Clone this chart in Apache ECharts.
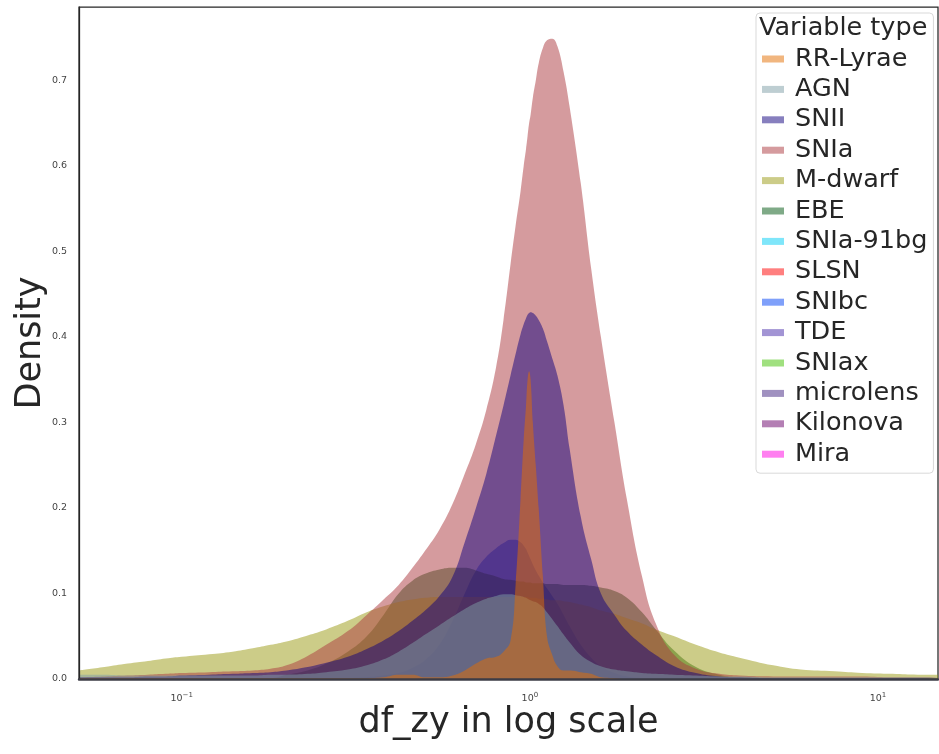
<!DOCTYPE html>
<html><head><meta charset="utf-8">
<script src="https://cdn.jsdelivr.net/npm/echarts@6/dist/echarts.min.js"></script>
<style>html,body{margin:0;padding:0;background:#fff}#c{width:939px;height:754px}</style>
</head><body><div id="c"></div>
<script>
// Legend order (first = drawn on top)
const categories = ['RR-Lyrae','AGN','SNII','SNIa','M-dwarf','EBE','SNIa-91bg','SLSN','SNIbc','TDE','SNIax','microlens','Kilonova','Mira'];

// x sample positions (df_zy values)
const xGrid = [0.0507,0.06,0.07,0.08,0.09,0.1,0.12,0.14,0.16,0.18,0.2,0.23,0.26,0.3,0.34,0.38,0.42,0.46,0.5,0.55,0.6,0.65,0.7,0.75,0.8,0.84,0.88,0.91,0.94,0.96,0.975,0.985,0.995,1.005,1.02,1.04,1.06,1.09,1.12,1.16,1.2,1.25,1.3,1.4,1.5,1.6,1.75,1.9,2.1,2.3,2.6,3.0,3.5,4.0,5.0,6.0,7.5,9.0,11.0,13.0,14.87];

const rrLyrae = [0.001,0.001,0.001,0.001,0.001,0.001,0.001,0.001,0.001,0.001,0.001,0.001,0.001,0.001,0.001,0.002,0.005,0.005,0.002,0.002,0.004,0.01,0.018,0.024,0.026,0.032,0.045,0.11,0.21,0.28,0.32,0.35,0.36,0.35,0.30,0.25,0.2,0.12,0.05,0.028,0.015,0.01,0.01,0.008,0.006,0.002,0.001,0,0,0,0,0,0,0,0,0,0,0,0,0,0];
const agn = [0.005,0.005,0.004,0.004,0.004,0.004,0.004,0.004,0.004,0.005,0.005,0.006,0.008,0.011,0.016,0.023,0.032,0.042,0.052,0.063,0.073,0.082,0.089,0.094,0.097,0.099,0.099,0.098,0.097,0.096,0.095,0.094,0.093,0.092,0.091,0.09,0.088,0.084,0.078,0.07,0.062,0.052,0.043,0.028,0.02,0.015,0.011,0.009,0.007,0.006,0.005,0.004,0.003,0.003,0.002,0.002,0.002,0.002,0.002,0.002,0.002];
const snii = [0.002,0.002,0.002,0.003,0.003,0.004,0.005,0.006,0.007,0.008,0.01,0.014,0.019,0.026,0.035,0.045,0.056,0.068,0.08,0.097,0.12,0.16,0.2,0.24,0.285,0.32,0.355,0.38,0.403,0.415,0.422,0.426,0.428,0.429,0.428,0.425,0.42,0.41,0.395,0.375,0.355,0.32,0.27,0.19,0.14,0.1,0.075,0.056,0.04,0.028,0.015,0.007,0.003,0.002,0.001,0.001,0.001,0.001,0.001,0.001,0.001];
const snia = [0.002,0.003,0.004,0.005,0.006,0.007,0.008,0.009,0.01,0.012,0.016,0.027,0.04,0.056,0.075,0.093,0.11,0.13,0.15,0.175,0.205,0.24,0.275,0.315,0.365,0.42,0.485,0.53,0.57,0.6,0.62,0.635,0.65,0.66,0.68,0.70,0.72,0.738,0.747,0.749,0.74,0.71,0.67,0.58,0.48,0.4,0.3,0.21,0.12,0.065,0.028,0.012,0.006,0.004,0.003,0.003,0.003,0.003,0.002,0.002,0.002];
const mDwarf = [0.01,0.014,0.018,0.021,0.024,0.026,0.029,0.032,0.036,0.04,0.044,0.051,0.058,0.068,0.078,0.085,0.09,0.093,0.095,0.096,0.096,0.096,0.096,0.096,0.096,0.096,0.096,0.096,0.096,0.096,0.096,0.096,0.095,0.095,0.095,0.095,0.094,0.094,0.093,0.092,0.092,0.091,0.09,0.087,0.084,0.08,0.076,0.071,0.065,0.058,0.05,0.04,0.031,0.025,0.016,0.011,0.009,0.007,0.006,0.005,0.005];
const ebe = [0.001,0.001,0.001,0.001,0.001,0.001,0.001,0.001,0.001,0.001,0.005,0.01,0.018,0.032,0.05,0.075,0.1,0.115,0.123,0.128,0.13,0.13,0.127,0.123,0.12,0.117,0.116,0.115,0.114,0.114,0.113,0.113,0.113,0.113,0.112,0.112,0.112,0.112,0.111,0.111,0.111,0.11,0.11,0.11,0.109,0.107,0.103,0.095,0.078,0.058,0.033,0.014,0.005,0.002,0.001,0.001,0.001,0.001,0.001,0.001,0.001];
const snIbc = [0,0,0,0,0,0,0,0,0,0,0,0,0,0.001,0.002,0.004,0.007,0.013,0.022,0.04,0.068,0.1,0.127,0.143,0.153,0.159,0.163,0.163,0.16,0.156,0.152,0.148,0.144,0.14,0.134,0.127,0.121,0.113,0.106,0.097,0.088,0.075,0.062,0.04,0.025,0.015,0.007,0.003,0.001,0,0,0,0,0,0,0,0,0,0,0,0];

const seriesValues = {'RR-Lyrae': rrLyrae, 'AGN': agn, 'SNII': snii, 'SNIa': snia, 'M-dwarf': mDwarf, 'EBE': ebe, 'SNIbc': snIbc};

const colors = {
  'RR-Lyrae':'rgba(227,110,0,0.5)', 'AGN':'rgba(125,157,165,0.5)', 'SNII':'rgba(15,0,125,0.5)',
  'SNIa':'rgba(171,55,62,0.5)', 'M-dwarf':'rgba(153,153,17,0.5)', 'EBE':'rgba(0,85,15,0.5)',
  'SNIa-91bg':'rgba(0,205,245,0.5)', 'SLSN':'rgba(255,0,0,0.5)', 'SNIbc':'rgba(0,65,245,0.5)',
  'TDE':'rgba(70,42,170,0.5)', 'SNIax':'rgba(65,193,0,0.5)', 'microlens':'rgba(65,35,130,0.5)',
  'Kilonova':'rgba(105,0,105,0.5)', 'Mira':'rgba(255,0,225,0.5)'
};

const yTickLabels = ['0.0','0.1','0.2','0.3','0.4','0.5','0.6','0.7'];

const FONT = 'DejaVu Sans';
const chart = echarts.init(document.getElementById('c'), null, {renderer:'canvas'});

const series = categories.slice().reverse().map(name => ({
  name: name, type: 'line', smooth: 0.45, showSymbol: false, symbol: 'none',
  data: (seriesValues[name] || []).map((v, i) => [xGrid[i], v]),
  lineStyle: {width: 0, opacity: 0}, itemStyle: {color: colors[name]},
  areaStyle: {color: colors[name], opacity: 1}, silent: true, z: 2
}));

chart.setOption({
  animation: false,
  backgroundColor: '#fff',
  title: {text: 'Variable type', left: 759, top: 15, padding: 0,
    textStyle: {fontSize: 25.5, fontWeight: 'normal', color: '#262626', fontFamily: FONT}},
  legend: {data: categories, orient: 'vertical', left: 756, top: 13, icon: 'rect',
    itemWidth: 22, itemHeight: 7, itemGap: 4.4, padding: [33, 6, 6, 6],
    borderColor: '#d9d9d9', borderWidth: 1, borderRadius: 4, backgroundColor: 'rgba(255,255,255,0.8)',
    selectedMode: false,
    textStyle: {fontSize: 25.5, lineHeight: 25.5, color: '#262626', fontFamily: FONT, padding: [0, 0, 0, 6]}},
  grid: {left: 79, right: 1, top: 7, bottom: 75, show: true, borderColor: '#262626', borderWidth: 1.25},
  xAxis: {type: 'log', logBase: 10, min: 0.0507, max: 14.87, z: 10,
    axisLine: {show: true, onZero: false, lineStyle: {color: '#3c3c46', width: 2.5}},
    axisTick: {show: false}, splitLine: {show: false}, minorTick: {show: false},
    axisLabel: {showMinLabel: false, showMaxLabel: false, margin: 13, fontFamily: FONT,
      formatter: function (v) {
        const l = Math.log10(v); const e = Math.round(l);
        if (Math.abs(l - e) > 1e-6) return '';
        return '{b|10}{s|' + (e < 0 ? '\u2212' + (-e) : e) + '}';
      },
      rich: {b: {fontSize: 9.5, color: '#444', fontFamily: FONT, verticalAlign: 'bottom'},
             s: {fontSize: 7, color: '#444', fontFamily: FONT, verticalAlign: 'bottom', padding: [0, 0, 5, 0]}}},
    name: 'df_zy in log scale', nameLocation: 'middle', nameGap: 26, nameMoveOverlap: false,
    nameTextStyle: {fontSize: 35, color: '#262626', fontFamily: FONT}},
  yAxis: {type: 'value', min: 0, max: 0.786, interval: 0.1, z: 10,
    axisLine: {show: true, lineStyle: {color: '#262626', width: 1.25}},
    axisTick: {show: false}, splitLine: {show: false},
    axisLabel: {fontSize: 9.5, color: '#444', margin: 12, fontFamily: FONT, showMaxLabel: false,
      formatter: function (v) { const i = Math.round(v * 10); return yTickLabels[i] !== undefined ? yTickLabels[i] : ''; }},
    name: 'Density', nameLocation: 'middle', nameGap: 31, nameMoveOverlap: false,
    nameTextStyle: {fontSize: 35, color: '#262626', fontFamily: FONT}},
  series: series
});
</script></body></html>
